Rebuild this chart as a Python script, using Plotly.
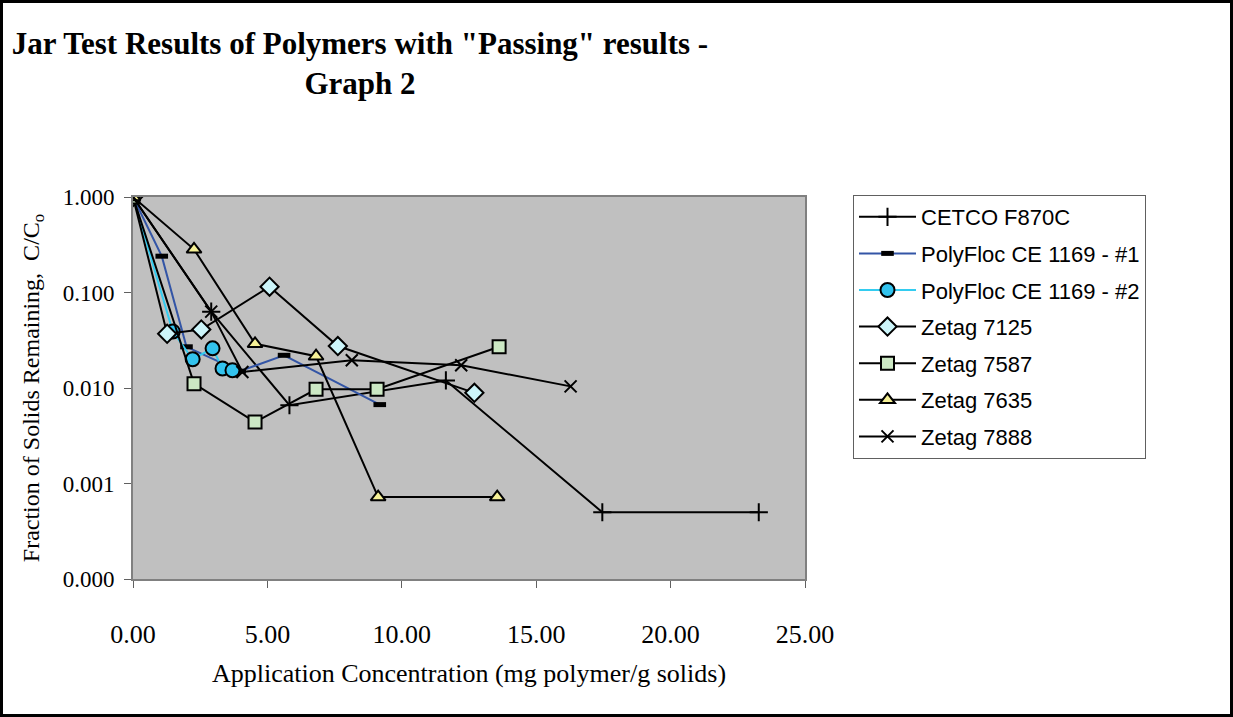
import plotly.graph_objects as go

# data
cetco_x = [0.0, 2.91, 5.82, 11.64, 17.46, 23.28]
cetco_y = [1.0, 0.063, 0.0066, 0.012, 0.0005, 0.0005]

pf1_x = [0.0, 1.07, 1.99, 3.97, 5.62, 9.18]
pf1_y = [1.0, 0.24, 0.027, 0.015, 0.022, 0.0067]

pf2_x = [0.0, 1.48, 2.22, 2.96, 3.33, 3.70]
pf2_y = [1.0, 0.039, 0.020, 0.026, 0.016, 0.0153]

z7125_x = [0.0, 1.27, 2.54, 5.08, 7.62, 12.70]
z7125_y = [1.0, 0.037, 0.041, 0.115, 0.0275, 0.0089]

z7587_x = [0.0, 2.27, 4.54, 6.81, 9.08, 13.62]
z7587_y = [1.0, 0.0111, 0.0044, 0.0097, 0.0097, 0.027]

z7635_x = [0.0, 2.27, 4.54, 6.81, 9.12, 13.55]
z7635_y = [1.0, 0.283, 0.029, 0.0215, 0.00072, 0.00072]

z7888_x = [0.0, 2.91, 4.07, 8.14, 12.21, 16.28]
z7888_y = [1.0, 0.063, 0.0147, 0.0195, 0.0173, 0.0104]

y_tickvals = [1, 0.1, 0.01, 0.001, 0.0001]
y_ticktext = ["1.000", "0.100", "0.010", "0.001", "0.000"]

W, H = 1233, 717
L, R, T, B = 133, 428, 197, 138
pw, ph = W - L - R, H - T - B

fig = go.Figure()

def add(x, y, name, color, symbol, size, fill, mlw=2):
  fig.add_trace(go.Scatter(
    x=x, y=y, name=name, mode="lines+markers", legendgroup=name,
    line=dict(color=color, width=2),
    marker=dict(symbol=symbol, size=size, color=fill, line=dict(color="black", width=mlw)),
  ))

add(cetco_x, cetco_y, "CETCO F870C", "black", "cross-thin", 13, "black")
add(pf1_x, pf1_y, "PolyFloc CE 1169 - #1", "#3355A6", "line-ew", 9, "black", 5)
add(pf2_x, pf2_y, "PolyFloc CE 1169 - #2", "#33CCF0", "circle", 14, "#33C3EE")
add(z7125_x, z7125_y, "Zetag 7125", "black", "diamond", 14, "#CCF5FA")
add(z7587_x, z7587_y, "Zetag 7587", "black", "square", 13, "#CCE8C4")
add(z7635_x, z7635_y, "Zetag 7635", "black", "triangle-up", 13, "#F5F096")
add(z7888_x, z7888_y, "Zetag 7888", "black", "x-thin", 12, "black")

serif = "Liberation Serif, Times New Roman, serif"

fig.update_layout(
  width=W, height=H,
  margin=dict(l=L, r=R, t=T, b=B),
  paper_bgcolor="white",
  plot_bgcolor="#C0C0C0",
  title=dict(
    text="Jar Test Results of Polymers with \"Passing\" results -<br>Graph 2",
    font=dict(family=serif, size=31, color="black", weight="bold"),
    x=360 / W, xanchor="center", y=1 - 54 / H, yanchor="middle",
  ),
  legend=dict(
    x=(853 - L) / pw, y=1 + 2 / ph, xanchor="left", yanchor="top",
    font=dict(family="Liberation Sans, Arial, sans-serif", size=22, color="black"),
    bgcolor="white", bordercolor="#606060", borderwidth=1,
    itemwidth=57, tracegroupgap=5,
  ),
  showlegend=True,
)

fig.update_xaxes(
  range=[0, 25], dtick=5, tick0=0, tickformat=".2f",
  showgrid=False, zeroline=False,
  showline=True, linecolor="#808080", linewidth=2, mirror=True,
  ticks="outside", ticklen=7, tickcolor="#606060",
  ticklabelstandoff=24,
  tickfont=dict(family=serif, size=26, color="black"),
  title=dict(text="Application Concentration (mg polymer/g solids)",
             font=dict(family=serif, size=26, color="black"), standoff=16),
)
fig.update_yaxes(
  type="log", range=[-4, 0],
  tickvals=y_tickvals, ticktext=y_ticktext,
  showgrid=False, zeroline=False,
  showline=True, linecolor="#808080", linewidth=2, mirror=True,
  ticks="outside", ticklen=7, tickcolor="#606060",
  ticklabelstandoff=5,
  tickfont=dict(family=serif, size=23, color="black"),
  title=dict(text="Fraction of Solids Remaining,  C/C<sub>o</sub>",
             font=dict(family=serif, size=24, color="black"), standoff=16),
)

# outer frame around the whole chart
fig.add_shape(
  type="rect", xref="paper", yref="paper",
  x0=-(L - 1.5) / pw, x1=1 + (R - 1.5) / pw,
  y0=-(B - 1.5) / ph, y1=1 + (T - 1.5) / ph,
  line=dict(color="black", width=3), fillcolor="rgba(0,0,0,0)", layer="below",
)

# drop the default page margin so the figure sits at the window's corner
fig.write_html(
  "out.html",
  config={"displayModeBar": False},
  post_script="document.body.style.margin='0px';",
)
